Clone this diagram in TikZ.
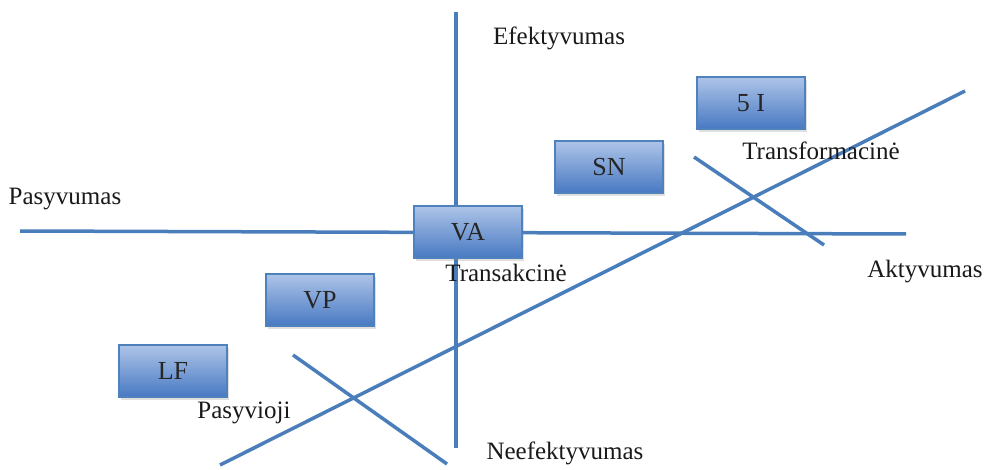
\documentclass[tikz,border=0pt]{standalone}
\usepackage{fontspec}
\setmainfont{Liberation Serif}
\usetikzlibrary{shadows}
\definecolor{axisblue}{HTML}{4A7EBB}
\definecolor{boxtop}{HTML}{AEC4E8}
\definecolor{boxbot}{HTML}{4779C2}
\definecolor{boxedge}{HTML}{4F81BD}
\tikzset{
  axis/.style={draw=axisblue, line width=3.5pt},
  stagebox/.style={draw=boxedge, line width=1.2pt, top color=boxtop, bottom color=boxbot,
    minimum width=108pt, minimum height=52pt, inner sep=0pt,
    font=\fontsize{26}{26}\selectfont, text=black!85,
    drop shadow={shadow xshift=2pt, shadow yshift=-3pt, opacity=0.25}},
  lbl/.style={font=\fontsize{25}{25}\selectfont, text=black!90, inner sep=0pt}
}
\begin{document}
\begin{tikzpicture}[x=1pt,y=-1pt]
\useasboundingbox (0,0) rectangle (992,470);
% axes
\coordinate (vtop) at (456,12);
\coordinate (vbot) at (456,448);
\coordinate (hl) at (20,231);
\coordinate (hr) at (906,234);
\coordinate (dl) at (220,465);
\coordinate (dr) at (965,91);
\coordinate (c1a) at (694,157);
\coordinate (c1b) at (824,245);
\coordinate (c2a) at (293,355);
\coordinate (c2b) at (447,464);
\draw[axis] (vtop) -- (vbot);
\draw[axis] (hl) -- (hr);
\draw[axis] (dl) -- (dr);
\draw[axis] (c1a) -- (c1b);
\draw[axis] (c2a) -- (c2b);
% boxes
\node[stagebox] (va) at (468,232) {VA};
\node[stagebox] (fivei) at (751,103) {5 I};
\node[stagebox] (sn) at (609,167) {SN};
\node[stagebox] (vp) at (320,300) {VP};
\node[stagebox] (lf) at (173,371) {LF};
% labels
\node[lbl] (ef) at (559,38) {Efektyvumas};
\node[lbl] (pas) at (65,199) {Pasyvumas};
\node[lbl] (akt) at (925,272) {Aktyvumas};
\node[lbl] (neef) at (565,453) {Neefektyvumas};
\node[lbl] (trs) at (506,273) {Transakcinė};
\node[lbl] (trf) at (821,151) {Transformacinė};
\node[lbl] (psv) at (244,413) {Pasyvioji};
\end{tikzpicture}
\end{document}
